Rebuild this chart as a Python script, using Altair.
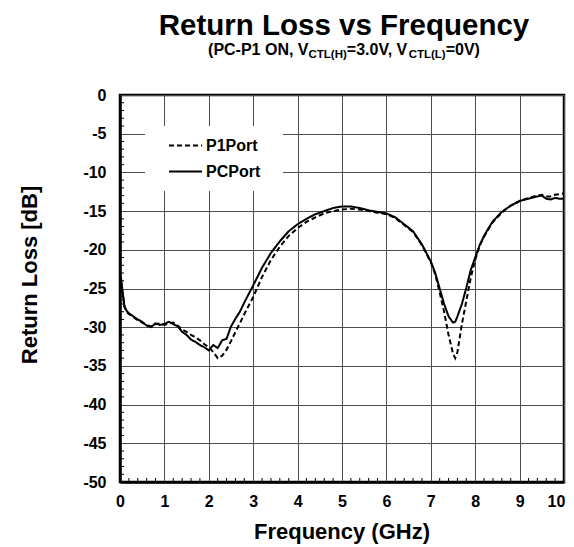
import altair as alt
import pandas as pd

# ---------------- data ----------------
freq = [0.0, 0.02, 0.05, 0.1, 0.15, 0.2, 0.3, 0.4, 0.5, 0.6,
        0.7, 0.8, 0.9, 1.0, 1.1, 1.2, 1.3, 1.4, 1.5, 1.6,
        1.7, 1.8, 1.9, 2.0, 2.1, 2.2, 2.3, 2.4, 2.5, 2.6,
        2.7, 2.8, 2.9, 3.0, 3.2, 3.4, 3.6, 3.8, 4.0, 4.2,
        4.4, 4.6, 4.8, 5.0, 5.2, 5.4, 5.6, 5.8, 6.0, 6.2,
        6.4, 6.6, 6.8, 7.0, 7.1, 7.2, 7.3, 7.4, 7.5, 7.55,
        7.6, 7.7, 7.8, 7.9, 8.0, 8.1, 8.2, 8.3, 8.4, 8.5,
        8.6, 8.7, 8.8, 8.9, 9.0, 9.2, 9.4, 9.5, 9.6, 9.7,
        9.8, 9.9, 10.0]

pc_port = [-25.5, -23.5, -25.0, -27.3, -27.9, -28.2, -28.6, -29.0, -29.3, -29.8,
           -30.0, -29.5, -29.7, -29.6, -29.3, -29.6, -29.9, -30.6, -31.0, -31.6,
           -31.9, -32.3, -32.6, -33.0, -32.3, -32.7, -31.7, -31.5, -29.9, -28.9,
           -28.0, -26.8, -25.7, -24.6, -22.3, -20.4, -18.9, -17.6, -16.7, -16.0,
           -15.4, -15.0, -14.6, -14.4, -14.4, -14.6, -14.9, -15.1, -15.3, -15.8,
           -16.7, -17.6, -19.3, -21.5, -23.0, -25.0, -27.0, -28.6, -29.4, -29.3,
           -28.6, -27.0, -24.9, -22.6, -21.0, -19.4, -18.2, -17.2, -16.3, -15.7,
           -15.1, -14.7, -14.3, -14.0, -13.7, -13.4, -13.1, -13.0, -13.4, -13.5,
           -13.3, -13.4, -13.4]

p1_port = [-25.6, -23.8, -25.2, -27.4, -28.0, -28.3, -28.7, -29.1, -29.4, -29.7,
           -29.9, -29.6, -29.5, -29.7, -29.5, -29.4, -29.8, -30.3, -30.6, -31.0,
           -31.3, -31.7, -32.2, -32.6, -33.2, -34.0, -33.7, -32.9, -31.8, -30.6,
           -29.5, -28.3, -27.2, -26.1, -23.5, -21.3, -19.6, -18.2, -17.2, -16.4,
           -15.8, -15.3, -15.0, -14.8, -14.7, -14.8, -15.0, -15.2, -15.4, -15.9,
           -16.8, -17.7, -19.4, -21.6, -23.2, -25.5, -28.0, -31.0, -33.4, -34.0,
           -33.2, -29.6, -26.6, -23.6, -21.3, -19.5, -18.3, -17.3, -16.4, -15.8,
           -15.2, -14.7, -14.3, -14.0, -13.7, -13.3, -13.0, -12.9, -13.1, -13.1,
           -12.9, -12.8, -12.7]

series_names = ["P1Port", "PCPort"]
x_ticks = list(range(0, 11))
y_ticks = list(range(-50, 1, 5))
x_minor = [round(i * 0.2, 1) for i in range(1, 50) if i % 5]
y_minor = [v for v in range(-49, 0) if v % 5]

title_text = "Return Loss vs Frequency"
subtitle_parts = [("(PC-P1 ON, V", False), ("CTL(H)", True), ("=3.0V, V", False),
                  ("CTL(L)", True), ("=0V)", False)]
x_title = "Frequency (GHz)"
y_title = "Return Loss [dB]"

# ---------------- layout ----------------
W, H = 444, 387
FONT = "Liberation Sans"
MAIN_SIZE, SUB_SIZE = 16, 11.5

# Arial/Liberation Sans Bold advance widths (per 1000 em) for subtitle layout
ADV = {'(': 333, ')': 333, 'P': 667, 'C': 722, '-': 333, '1': 556, ' ': 278,
       'O': 778, 'N': 722, ',': 278, 'V': 667, 'T': 611, 'L': 611, 'H': 722,
       '=': 584, '3': 556, '.': 278, '0': 556}


def text_width(s, size):
    return sum(ADV.get(c, 556) for c in s) * size / 1000.0


df = pd.DataFrame({
    "freq": freq + freq,
    "rl": p1_port + pc_port,
    "series": [series_names[0]] * len(freq) + [series_names[1]] * len(freq),
})

x_scale = alt.Scale(domain=[0, 10], nice=False, zero=False)
y_scale = alt.Scale(domain=[-50, 0], nice=False, zero=False)

# keep the last x label ("10") inside the page's right edge
last_label_shift = {"condition": {"test": "datum.value === 10", "value": -8}, "value": 0}

x_axis = alt.Axis(values=x_ticks, title=None, grid=True, gridColor="#4d4d4d",
                  gridWidth=1, ticks=False, labelFont=FONT, labelFontSize=16,
                  labelFontWeight="bold", labelColor="black", labelPadding=11,
                  labelFlush=False, labelOverlap=False, labelBound=False,
                  labelOffset=last_label_shift,
                  domainColor="black", domainWidth=2.5)
y_axis = alt.Axis(values=y_ticks, title=None, grid=True, gridColor="#4d4d4d",
                  gridWidth=1, ticks=False, labelFont=FONT, labelFontSize=16,
                  labelFontWeight="bold", labelColor="black", labelPadding=14,
                  labelFlush=False, labelOverlap=False, labelBound=False,
                  labelExpr="toString(datum.value)",
                  domainColor="black", domainWidth=2.5)

legend_bg = alt.Chart(pd.DataFrame({"a": [0]})).mark_rect(fill="white").encode(
    x=alt.value(25), x2=alt.value(163), y=alt.value(31), y2=alt.value(96))

lines = alt.Chart(df).mark_line(strokeWidth=2, color="black").encode(
    x=alt.X("freq:Q", scale=x_scale, axis=x_axis),
    y=alt.Y("rl:Q", scale=y_scale, axis=y_axis),
    strokeDash=alt.StrokeDash(
        "series:N",
        scale=alt.Scale(domain=series_names, range=[[5, 3], [1, 0]]),
        legend=alt.Legend(title=None, orient="none", legendX=48, legendY=33,
                          symbolType="stroke", symbolSize=1089,
                          symbolStrokeWidth=2, symbolStrokeColor="black",
                          labelFont=FONT, labelFontSize=16,
                          labelFontWeight="bold", labelColor="black",
                          labelOffset=3, rowPadding=0, padding=0)),
)

x_minor_ticks = alt.Chart(pd.DataFrame({"freq": x_minor})).mark_rule(
    color="black", strokeWidth=1).encode(
    x=alt.X("freq:Q", scale=x_scale, axis=x_axis),
    y=alt.value(H), y2=alt.value(H - 4))

y_minor_ticks = alt.Chart(pd.DataFrame({"rl": y_minor})).mark_rule(
    color="black", strokeWidth=1).encode(
    y=alt.Y("rl:Q", scale=y_scale, axis=y_axis),
    x=alt.value(0), x2=alt.value(4))


def text_layer(txt, x, y, size, align="left", angle=0):
    return alt.Chart(pd.DataFrame({"t": [txt]})).mark_text(
        font=FONT, fontSize=size, fontWeight="bold", color="black",
        align=align, baseline="alphabetic", angle=angle).encode(
        x=alt.value(x), y=alt.value(y), text="t:N")


texts = [text_layer(title_text, 224, -60, 29.5, align="center")]

total = sum(text_width(s, SUB_SIZE if sub else MAIN_SIZE) for s, sub in subtitle_parts)
cx = 224 - total / 2.0
for s, sub in subtitle_parts:
    size = SUB_SIZE if sub else MAIN_SIZE
    texts.append(text_layer(s, cx, -37 if sub else -40, size))
    cx += text_width(s, size)

texts.append(text_layer(x_title, 222, 444, 22, align="center"))
texts.append(text_layer(y_title, -83, 180, 22, align="center", angle=270))

chart = alt.layer(legend_bg, lines, x_minor_ticks, y_minor_ticks, *texts).properties(
    width=W, height=H,
    autosize=alt.AutoSizeParams(type="none"),
    padding={"left": 112, "top": 87, "right": 2, "bottom": 65},
).configure_view(stroke="black", strokeWidth=2.5)

chart.save("out.html", embed_options={"renderer": "svg", "actions": False})
